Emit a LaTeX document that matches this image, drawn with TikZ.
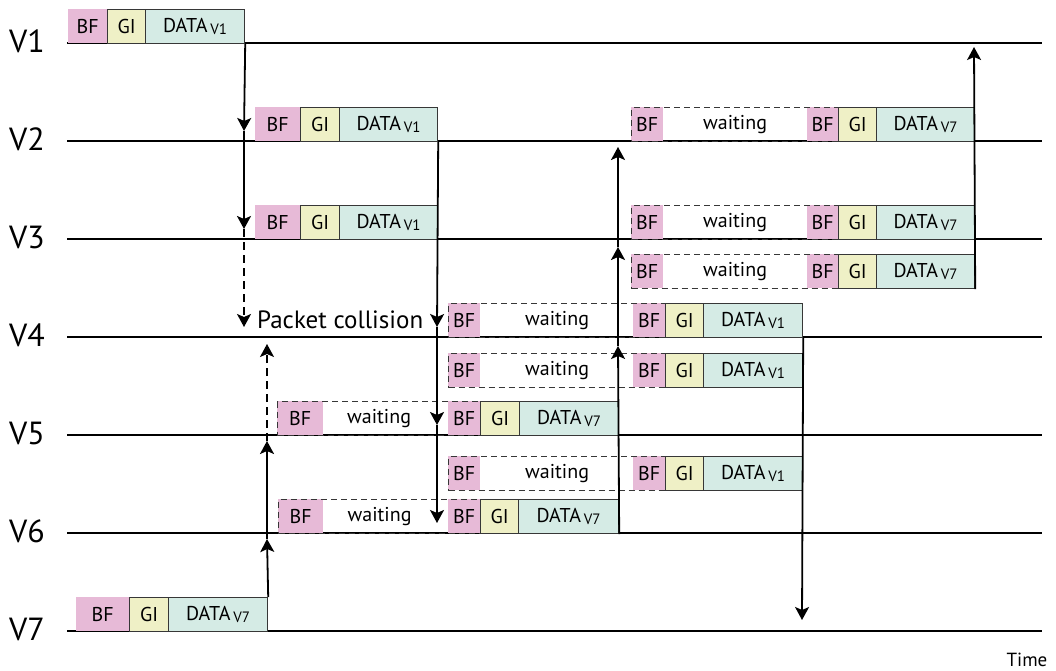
\documentclass[tikz,border=0pt]{standalone}
\usepackage{fontspec}
\setmainfont{PT Sans}
\usetikzlibrary{arrows.meta}
\definecolor{bfc}{RGB}{231,186,215}
\definecolor{gic}{RGB}{239,240,198}
\definecolor{dtc}{RGB}{213,235,229}
\definecolor{edgec}{RGB}{55,55,55}
\def\ph{34}
\newcommand{\dt}[1]{DATA\kern3pt{\fontsize{15}{15}\selectfont\raisebox{-2pt}{#1}}}
\tikzset{
  boxbase/.style={anchor=north west, inner sep=0pt, minimum height=\ph pt, font=\fontsize{20}{20}\selectfont},
  bfbox/.style={boxbase, fill=bfc},
  gibox/.style={boxbase, fill=gic, draw=edgec, line width=1.2pt},
  databox/.style={boxbase, fill=dtc, draw=edgec, line width=1.2pt},
  waitbox/.style={boxbase, draw=edgec, line width=1.2pt, dash pattern=on 6pt off 4pt},
  tline/.style={line width=1.3pt, black},
  vlab/.style={font=\fontsize{32}{32}\selectfont, inner sep=0pt},
  arr/.style={line width=1.8pt, -{Stealth[length=13pt,width=14pt,inset=3pt]}},
  darr/.style={arr, line width=1.5pt, dash pattern=on 8pt off 5pt},
}
\newcommand{\pkt}[6]{%
  \node[bfbox, minimum width={#3-#2}] (#1bf) at (#2,#6-\ph) {BF};
  \node[gibox, minimum width={#4-#3}] (#1gi) at (#3,#6-\ph) {GI};
  \node[databox, minimum width={#5-#4}] (#1d) at (#4,#6-\ph) {\dt{V7}};
}
\newcommand{\pktone}[6]{%
  \node[bfbox, minimum width={#3-#2}] (#1bf) at (#2,#6-\ph) {BF};
  \node[gibox, minimum width={#4-#3}] (#1gi) at (#3,#6-\ph) {GI};
  \node[databox, minimum width={#5-#4}] (#1d) at (#4,#6-\ph) {\dt{V1}};
}
% name, wx, lbf end, rbf start, gi start, data start, end, bottom, sub
\newcommand{\wpkt}[9]{%
  \node[bfbox, minimum width={#3-#2}] (#1bfa) at (#2,#8-\ph) {BF};
  \node[bfbox, minimum width={#5-#4}] (#1bfb) at (#4,#8-\ph) {BF};
  \node[waitbox, minimum width={#5-#2}] (#1w) at (#2,#8-\ph) {waiting};
  \node[gibox, minimum width={#6-#5}] (#1gi) at (#5,#8-\ph) {GI};
  \node[databox, minimum width={#7-#6}] (#1d) at (#6,#8-\ph) {\dt{#9}};
}
\begin{document}
\begin{tikzpicture}[x=1pt,y=-1pt]
\useasboundingbox (0,0) rectangle (1056,671);
% timelines
\foreach \i/\y in {1/43,2/141,3/239,4/337,5/435,6/533,7/631}{
  \coordinate (s\i) at (67,\y);
  \coordinate (e\i) at (1042,\y);
  \draw[tline] (s\i) -- (e\i);
  \node[vlab] (l\i) at (27,\y-2) {V\i};
}
\node[font=\fontsize{19}{19}\selectfont, inner sep=0pt] (time) at (1027,660) {Time};
% solid packets
\pktone{pa}{68}{107}{145}{244}{43}
\pktone{pb}{255}{300}{339}{437}{141}
\pktone{pc}{255}{300}{339}{437}{239}
\pkt{pg}{76}{129}{168}{267}{631}
% waiting packets
\wpkt{w5}{277}{323}{448}{480}{519}{618}{435}{V7}
\wpkt{w6}{278}{323}{448}{480}{518}{618}{533}{V7}
\wpkt{w4a}{448}{480}{633}{665}{703}{802}{337}{V1}
\wpkt{w4b}{448}{480}{633}{665}{703}{802}{387}{V1}
\wpkt{w56}{448}{480}{633}{665}{703}{802}{490}{V1}
\wpkt{w2}{631}{663}{807}{838}{876}{974}{141}{V7}
\wpkt{w3a}{631}{663}{807}{838}{876}{974}{239}{V7}
\wpkt{w3b}{631}{663}{807}{838}{876}{974}{288}{V7}
% collision label
\node[font=\fontsize{25}{25}\selectfont, inner sep=0pt, anchor=west] (coll) at (257,320) {Packet collision};
% arrow tip coordinates
\coordinate (a1) at (244,131);
\coordinate (a2) at (244,229);
\coordinate (a3) at (244,327);
\coordinate (b1) at (437,327);
\coordinate (b2) at (437,425);
\coordinate (b3) at (437,523);
\coordinate (g1) at (267,539);
\coordinate (g2) at (267,441);
\coordinate (g3) at (267,344);
\coordinate (c1) at (618,346);
\coordinate (c2) at (618,247);
\coordinate (c3) at (618,147);
\coordinate (d1) at (802,620);
\coordinate (f1) at (974,47);
% arrows
\draw[arr] (pad.south east) -- (a1);
\draw[arr] (a1) -- (a2);
\draw[darr] (a2) -- (a3);
\draw[arr] (pbd.south east) -- (b1);
\draw[arr] (b1) -- (b2);
\draw[arr] (b2) -- (b3);
\draw[arr] (pgd.north east) -- (g1);
\draw[arr] (g1) -- (g2);
\draw[darr] (g2) -- (g3);
\draw[arr] (w6d.south east) -- (c1);
\draw[arr] (c1) -- (c2);
\draw[arr] (c2) -- (c3);
\draw[arr] (w4ad.south east) -- (d1);
\draw[arr] (w3bd.south east) -- (f1);
\end{tikzpicture}
\end{document}
